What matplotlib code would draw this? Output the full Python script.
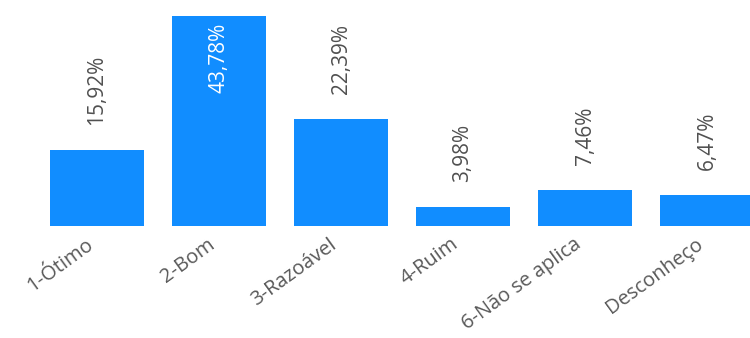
import matplotlib.pyplot as plt
import matplotlib.transforms as mtransforms

categories = ["1-Ótimo", "2-Bom", "3-Razoável", "4-Ruim", "6-Não se aplica", "Desconheço"]
values = [15.92, 43.78, 22.39, 3.98, 7.46, 6.47]
labels = ["15,92%", "43,78%", "22,39%", "3,98%", "7,46%", "6,47%"]

plt.rcParams['font.family'] = ['Open Sans', 'DejaVu Sans']

fig = plt.figure(figsize=(7.5, 3.38), dpi=100)
ax = fig.add_axes([0, 112 / 338, 1, 226 / 338])

x = list(range(len(categories)))
ax.bar(x, values, width=0.77, color='#118DFF')

ax.set_xlim(-97 / 122, (750 - 97) / 122)
ax.set_ylim(0, 226 / 4.8)

for xi, v, lab in zip(x, values, labels):
    if v > 40:
        ax.annotate(lab, (xi, v), xytext=(0, -5), textcoords='offset points',
                    rotation=90, ha='center', va='top', color='white', fontsize=15)
    else:
        ax.annotate(lab, (xi, v), xytext=(0, 18), textcoords='offset points',
                    rotation=90, ha='center', va='bottom', color='#505050', fontsize=15)

ax.set_xticks(x)
ax.set_xticklabels(categories, rotation=36, ha='right', rotation_mode='anchor',
                   fontsize=14.5, color='#595959')
ax.tick_params(axis='x', length=0, pad=6)
offset = mtransforms.ScaledTranslation(-12 / 100, 0, fig.dpi_scale_trans)
for t in ax.get_xticklabels():
    t.set_transform(t.get_transform() + offset)
ax.set_yticks([])
for s in ax.spines.values():
    s.set_visible(False)

fig.savefig('out.png', dpi=100)
